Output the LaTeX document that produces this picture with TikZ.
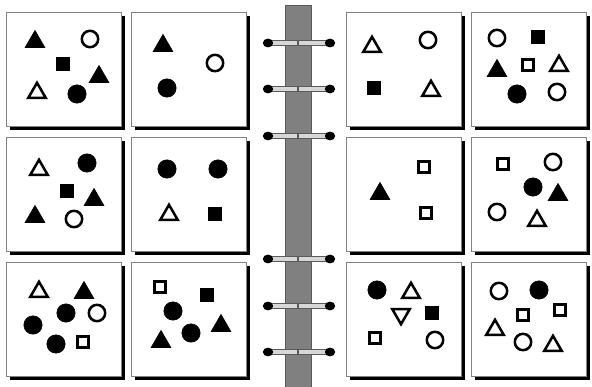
\documentclass[tikz,border=0pt]{standalone}
\usepackage{tikz}
\usetikzlibrary{shapes.geometric,shadows}
\definecolor{spinegray}{RGB}{128,128,128}
\definecolor{spineedge}{RGB}{90,90,90}
\definecolor{ringfill}{RGB}{215,215,215}
\definecolor{cardline}{RGB}{130,130,130}
\tikzset{
  card/.style ={rectangle, draw=cardline, fill=white, line width=0.6pt,
               minimum width=2.875cm, minimum height=2.85cm, inner sep=0pt,
               general shadow={fill=black, shadow xshift=0.1cm, shadow yshift=-0.1cm}},
  fcirc/.style={circle, fill=black, draw=black, minimum size=0.46cm, inner sep=0pt},
  ocirc/.style={circle, draw=black, line width=1.8pt, fill=white, minimum size=0.41cm, inner sep=0pt},
  ftri/.style ={regular polygon, regular polygon sides=3, fill=black, draw=black,
               minimum size=0.57cm, inner sep=0pt, yshift=-0.07cm},
  otri/.style ={regular polygon, regular polygon sides=3, draw=black, line width=1.8pt,
               minimum size=0.5cm, inner sep=0pt, yshift=-0.07cm},
  odtri/.style={otri, shape border rotate=180, yshift=0.14cm},
  fsq/.style  ={rectangle, fill=black, draw=black, minimum size=0.33cm, inner sep=0pt},
  osq/.style  ={rectangle, draw=black, line width=1.8pt, minimum size=0.27cm, inner sep=0pt},
  ringbar/.style={draw=spineedge, line width=0.8pt, double=ringfill, double distance=0.11cm},
}

\begin{document}
\begin{tikzpicture}[x=0.025cm, y=-0.025cm]
  \useasboundingbox (0,0) rectangle (592,387);
  \fill[white] (0,0) rectangle (592,387);
  % cards
  \node[card] (k11) at (63.5,69) {};  \node[card] (k12) at (188.5,69) {};
  \node[card] (k13) at (403.5,69) {}; \node[card] (k14) at (528.5,69) {};
  \node[card] (k21) at (63.5,194) {};  \node[card] (k22) at (188.5,194) {};
  \node[card] (k23) at (403.5,194) {}; \node[card] (k24) at (528.5,194) {};
  \node[card] (k31) at (63.5,319) {};  \node[card] (k32) at (188.5,319) {};
  \node[card] (k33) at (403.5,319) {}; \node[card] (k34) at (528.5,319) {};
  % spine and rings
  \filldraw[fill=spinegray, draw=spineedge, line width=0.5pt] (285,5) rectangle (311,387);
  \foreach \y in {43,89,136,259,306,352} {
    \draw[ringbar] (268,\y) -- (330,\y);
    \fill[black] (268,\y) ellipse (0.13cm and 0.11cm);
    \fill[black] (330,\y) ellipse (0.13cm and 0.11cm);
    \draw[spineedge, line width=0.8pt] (298,\y-2.5) -- (298,\y+2.5);
  }
  % row 1
  \node[ftri] (a1) at (35,39) {};   \node[ocirc] (a2) at (90,39) {};
  \node[fsq] (a3) at (63,64) {};    \node[ftri] (a4) at (99,74) {};
  \node[otri] (a5) at (37,90) {};   \node[fcirc] (a6) at (77,94) {};
  \node[ftri] (b1) at (163,43) {};  \node[ocirc] (b2) at (215,63) {};
  \node[fcirc] (b3) at (167,88) {};
  \node[otri] (c1) at (372,44) {};  \node[ocirc] (c2) at (428,40) {};
  \node[fsq] (c3) at (374,88) {};   \node[otri] (c4) at (431,88) {};
  \node[ocirc] (d1) at (497,38) {}; \node[fsq] (d2) at (538,37) {};
  \node[ftri] (d3) at (497,68) {};  \node[osq] (d4) at (528,65) {};
  \node[otri] (d5) at (559,63) {};  \node[fcirc] (d6) at (517,94) {};
  \node[ocirc] (d7) at (557,92) {};
  % row 2
  \node[otri] (e1) at (39,167) {};  \node[fcirc] (e2) at (87,163) {};
  \node[fsq] (e3) at (67,191) {};   \node[ftri] (e4) at (94,197) {};
  \node[ftri] (e5) at (35,214) {};  \node[ocirc] (e6) at (74,219) {};
  \node[fcirc] (f1) at (167,169) {}; \node[fcirc] (f2) at (218,169) {};
  \node[otri] (f3) at (169,212) {};  \node[fsq] (f4) at (215,214) {};
  \node[osq] (g1) at (424,167) {};  \node[ftri] (g2) at (380,191) {};
  \node[osq] (g3) at (426,213) {};
  \node[osq] (h1) at (503,164) {};  \node[ocirc] (h2) at (553,162) {};
  \node[fcirc] (h3) at (533,187) {}; \node[ftri] (h4) at (558,192) {};
  \node[ocirc] (h5) at (497,212) {}; \node[otri] (h6) at (537,218) {};
  % row 3
  \node[otri] (i1) at (39,289) {};  \node[ftri] (i2) at (84,290) {};
  \node[fcirc] (i3) at (66,313) {}; \node[ocirc] (i4) at (97,313) {};
  \node[fcirc] (i5) at (33,325) {}; \node[fcirc] (i6) at (56,344) {};
  \node[osq] (i7) at (83,342) {};
  \node[osq] (j1) at (160,287) {};  \node[fsq] (j2) at (207,295) {};
  \node[fcirc] (j3) at (173,311) {}; \node[ftri] (j4) at (221,323) {};
  \node[fcirc] (j5) at (191,333) {}; \node[ftri] (j6) at (161,339) {};
  \node[fcirc] (m1) at (377,290) {}; \node[otri] (m2) at (411,290) {};
  \node[odtri] (m3) at (401,317) {}; \node[fsq] (m4) at (432,313) {};
  \node[osq] (m5) at (375,338) {};  \node[ocirc] (m6) at (435,340) {};
  \node[ocirc] (n1) at (499,291) {}; \node[fcirc] (n2) at (539,290) {};
  \node[osq] (n3) at (523,315) {};  \node[osq] (n4) at (560,310) {};
  \node[otri] (n5) at (495,327) {}; \node[ocirc] (n6) at (523,342) {};
  \node[otri] (n7) at (553,343) {};
\end{tikzpicture}
\end{document}
